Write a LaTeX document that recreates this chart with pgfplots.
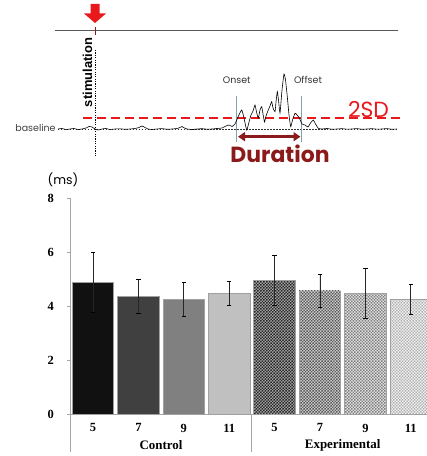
\documentclass[border=0pt]{standalone}
\usepackage{pgfplots}
\pgfplotsset{compat=1.18}
\usepackage{fontspec}
\setmainfont{Liberation Serif}
\newfontfamily\gothic{Poppins}
\newfontfamily\arial{Liberation Sans}
\usetikzlibrary{arrows.meta,patterns}
\pgfdeclarepatternformonly{finecheck}{\pgfqpoint{-0.2pt}{-0.2pt}}{\pgfqpoint{3.2pt}{3.2pt}}{\pgfqpoint{3pt}{3pt}}{%
  \pgfpathrectangle{\pgfpointorigin}{\pgfqpoint{1.5pt}{1.5pt}}%
  \pgfpathrectangle{\pgfqpoint{1.5pt}{1.5pt}}{\pgfqpoint{1.5pt}{1.5pt}}%
  \pgfusepath{fill}}
\definecolor{axgray}{HTML}{A6A6A6}
\definecolor{bord}{HTML}{A0A0A0}
\definecolor{cA}{HTML}{111111}
\definecolor{cB}{HTML}{404040}
\definecolor{cC}{HTML}{808080}
\definecolor{cD}{HTML}{C0C0C0}
\definecolor{sigred}{HTML}{E8191C}
\definecolor{durred}{HTML}{8B1A1A}
\definecolor{teal}{HTML}{7FA3AB}
\pgfplotsset{
  mybar/.style={ybar, bar width=41.5bp, bar shift=0pt, draw=bord, line width=0.8pt,
    error bars/y dir=both, error bars/y explicit,
    error bars/error bar style={line width=0.8pt, black!85},
    error bars/error mark options={rotate=90, mark size=2.2bp, line width=0.8pt, black}},
}
\begin{document}
\begin{tikzpicture}
% ---------------- bar chart ----------------
\begin{axis}[name=bars, anchor=south west, at={(70.3bp,41.7bp)},
  scale only axis, width=363.2bp, height=216bp,
  xmin=-0.5, xmax=7.5, ymin=0, ymax=8,
  axis x line*=bottom, axis y line*=left,
  axis line style={draw=axgray, line width=0.8pt, -},
  ytick={0,2,4,6,8}, xtick={0,...,7}, xticklabels={5,7,9,11,5,7,9,11},
  xtick style={draw=none},
  ytick style={draw=axgray, line width=0.8pt},
  tick align=outside, major tick length=3bp,
  clip=false,
  /pgf/number format/assume math mode=true,
  tick label style={font=\fontsize{12.5}{14}\selectfont\bfseries},
  yticklabel style={xshift=-10bp},
  xticklabel style={yshift=-3bp},
]
\addplot[mybar, fill=cA] coordinates {(0,4.89) +- (0,1.10)};
\addplot[mybar, fill=cB] coordinates {(1,4.37) +- (0,0.64)};
\addplot[mybar, fill=cC] coordinates {(2,4.26) +- (0,0.62)};
\addplot[mybar, fill=cD] coordinates {(3,4.47) +- (0,0.44)};
\addplot[mybar, fill=gray!60, postaction={pattern=finecheck, pattern color=black!85}] coordinates {(4,4.95) +- (0,0.92)};
\addplot[mybar, fill=gray!30, postaction={pattern=finecheck, pattern color=black!65}] coordinates {(5,4.57) +- (0,0.62)};
\addplot[mybar, fill=gray!15, postaction={pattern=finecheck, pattern color=black!50}] coordinates {(6,4.47) +- (0,0.93)};
\addplot[mybar, fill=gray!5, postaction={pattern=finecheck, pattern color=black!30}] coordinates {(7,4.26) +- (0,0.55)};
\draw[axgray, line width=0.8pt] (axis cs:-0.5,0) -- ([yshift=-37.4bp]axis cs:-0.5,0);
\draw[axgray, line width=0.8pt] (axis cs:3.5,0) -- ([yshift=-37.4bp]axis cs:3.5,0);
\node[font=\fontsize{13}{14}\selectfont\bfseries] at ([yshift=-30.7bp]axis cs:1.5,0) {Control};
\node[font=\fontsize{13}{14}\selectfont\bfseries] at ([yshift=-30.7bp]axis cs:5.5,0) {Experimental};
\end{axis}
% ---------------- schematic ----------------
\begin{axis}[anchor=south west, at={(0,0)}, scale only axis,
  width=427bp, height=456bp, xmin=0, xmax=427, ymin=0, ymax=456,
  y dir=reverse, axis lines=none, clip=false]
% top line
\addplot[black!65, line width=0.9pt] coordinates {(55,30.7) (398,30.7)};
\addplot[durred, line width=1pt] coordinates {(95,27) (95,35)};
% stimulation dotted line
\addplot[black, line width=0.7pt, dash pattern=on 1.2pt off 1.2pt] coordinates {(95,50) (95,157)};
% baseline dotted
\addplot[black!80, line width=0.6pt, dash pattern=on 1.5pt off 1.5pt] coordinates {(58,129.5) (398,129.5)};
% 2SD line
\addplot[sigred, line width=2bp, dash pattern=on 9bp off 5bp] coordinates {(83,118.3) (400,118.3)};
% onset/offset
\addplot[teal, line width=0.7pt] coordinates {(236.7,95.7) (236.7,141.7)};
\addplot[teal, line width=0.7pt] coordinates {(301.7,95.7) (301.7,141.7)};
% waveform
\addplot[black, line width=0.6pt, smooth, tension=0.3] coordinates {
(58,129)(62,128.5)(66,129.5)(70,129)(74,128.5)(78,129.5)(82,129)(86,128)(89,126.5)(92,127)(95,129)(98,130)(102,129)(106,128.5)(110,129.5)(115,129)(120,128.8)(125,129.3)(130,129)(135,128.5)(139,127.5)(142,126)(145,127.5)(148,129)(152,129.5)(157,129)(162,128.6)(167,129.3)(172,129)(177,128.5)(180,127.5)(182,126.5)(184,127.8)(187,129)(192,129.5)(197,129)(202,128.7)(207,129.2)(212,129)(217,128.5)(222,128)(226,126)(229,125)(232,126.5)(235,124)(238,117)(241.7,110)(244,118)(246.7,130)(249,122)(251,115)(253,111)(255,105)(256.5,112)(258.3,118)(260,110)(261.7,106.7)(263,114)(264.5,122)(266,116)(268.3,110)(270,106)(271.7,101.7)(273,108)(275,111.7)(276,102)(277.3,91.7)(278.5,100)(280,113)(282,90)(284,74)(285.5,80)(287.3,96.7)(289,115)(290.7,126.7)(292.5,120)(295,113.3)(297,115)(299.3,118)(302,124)(305,125)(308,127)(310.5,123)(313.3,120)(315.5,124)(318.3,128.3)(322,129)(327,128.5)(332,129.3)(337,129)(342,128.7)(347,129.2)(352,129)(357,128.6)(362,129.3)(367,129)(372,128.7)(377,129.2)(382,129)(387,128.6)(392,129.3)(397,129)};
% duration arrow
\addplot[durred, line width=2.5bp, {Triangle[length=7bp,width=9bp]}-{Triangle[length=7bp,width=9bp]}] coordinates {(238,136.7) (300.5,136.7)};
% red stimulus arrow
\fill[sigred] (axis cs:90.5,4) -- (axis cs:99.5,4) -- (axis cs:99.5,13.5) -- (axis cs:106,13.5) -- (axis cs:95,23) -- (axis cs:84,13.5) -- (axis cs:90.5,13.5) -- cycle;
% texts
\node[font=\gothic\fontsize{9.5}{10}\selectfont, text=black!75] at (axis cs:35.5,127.5) {baseline};
\node[rotate=90, font=\arial\bfseries\fontsize{13}{14}\selectfont] at (axis cs:87.5,72.5) {stimulation};
\node[font=\gothic\fontsize{9.5}{10}\selectfont, text=black!80] at (axis cs:236.7,80) {Onset};
\node[font=\gothic\fontsize{9.5}{10}\selectfont, text=black!80] at (axis cs:308,80) {Offset};
\node[font=\gothic\fontsize{22}{24}\selectfont, text=sigred] at (axis cs:368.5,110) {2SD};
\node[font=\gothic\bfseries\fontsize{22}{24}\selectfont, text=durred] at (axis cs:280,154) {Duration};
\node[font=\gothic\fontsize{12.5}{14}\selectfont] at (axis cs:63,180) {(ms)};
\end{axis}
\pgfresetboundingbox
\path[use as bounding box] (0,0) rectangle (427bp,456bp);
\end{tikzpicture}
\end{document}
